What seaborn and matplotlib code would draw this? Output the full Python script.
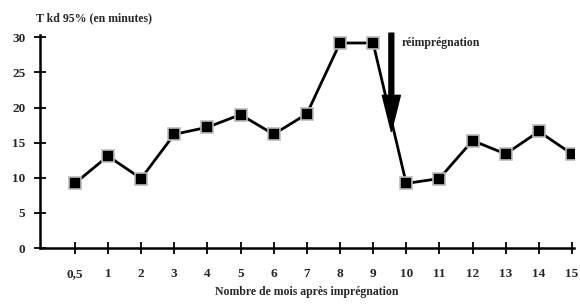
import numpy as np
import pandas as pd
import seaborn as sns
import matplotlib.pyplot as plt

# données
mois = ["0,5", "1", "2", "3", "4", "5", "6", "7", "8", "9", "10", "11", "12", "13", "14", "15"]
tkd95 = [9.2, 13.1, 9.9, 16.2, 17.2, 19.0, 16.2, 19.1, 29.2, 29.2, 9.2, 9.9, 15.3, 13.4, 16.6, 13.4]
yticks = [0, 5, 10, 15, 20, 25, 30]


def main():
    sns.set_theme(style="white")
    plt.rcParams["font.family"] = ["Liberation Serif", "DejaVu Serif"]

    df = pd.DataFrame({"pos": np.arange(len(mois)), "tkd": tkd95})

    fig = plt.figure(figsize=(5.8, 3.04), dpi=100)
    ax = fig.add_axes([0.069, 0.184, 0.92, 0.70])

    sns.lineplot(data=df, x="pos", y="tkd", ax=ax, color="black", lw=2,
                 marker="s", markersize=8.5, markerfacecolor="black",
                 markeredgecolor="#bbbbbb", markeredgewidth=1.2)

    # flèche de réimprégnation
    ax.annotate("", xy=(9.55, 16.6), xytext=(9.55, 30.6),
                arrowprops=dict(facecolor="black", edgecolor="black", width=3.5,
                                headwidth=13, headlength=26, shrink=0),
                annotation_clip=False)
    ax.text(9.85, 29.2, "réimprégnation", fontsize=8.5, fontweight="bold", va="center")

    ax.set_xlim(-1.05, 15.05)
    ax.set_ylim(0, 30.3)
    ax.set_xticks(df["pos"])
    ax.set_xticklabels(mois)
    ax.set_yticks(yticks)
    ax.tick_params(axis="both", bottom=True, left=True, direction="inout", length=9,
                   width=1.3, labelsize=9.5, color="black")
    for lab in ax.get_xticklabels() + ax.get_yticklabels():
        lab.set_fontweight("bold")
    ax.tick_params(axis="x", pad=10)
    ax.tick_params(axis="y", pad=6)

    sns.despine(ax=ax)
    for side in ["left", "bottom"]:
        ax.spines[side].set_color("black")
        ax.spines[side].set_linewidth(1.8)

    ax.set_xlabel("Nombre de mois après imprégnation", fontsize=8.5, fontweight="bold", labelpad=4)
    ax.set_ylabel("")
    fig.text(0.062, 0.94, "T kd 95% (en minutes)", fontsize=8.5, fontweight="bold", va="center")

    fig.savefig("out.png", dpi=100, facecolor="white")


if __name__ == "__main__":
    main()
